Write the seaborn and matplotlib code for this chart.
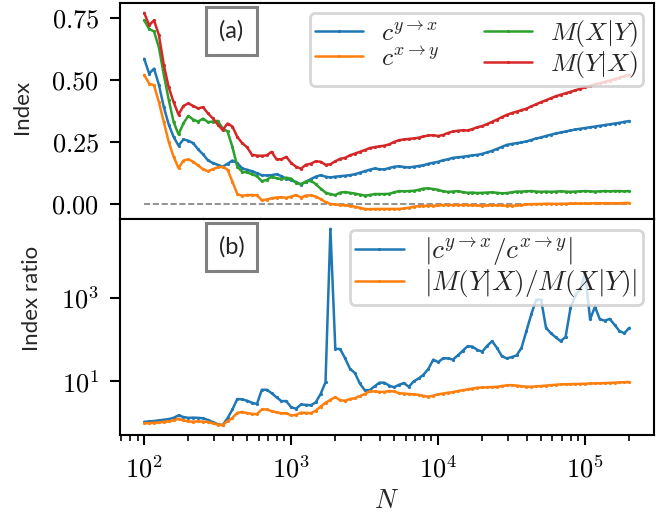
import numpy as np
import matplotlib
matplotlib.use("Agg")
import matplotlib.pyplot as plt
import seaborn as sns
from matplotlib.ticker import FuncFormatter, FixedLocator, NullLocator, LogLocator

# Sample sizes (log-spaced grid)
N = np.geomspace(100, 2e5, 100)

# Panel (a): causal indices
c_yx = [0.585, 0.525, 0.545, 0.48, 0.39, 0.32, 0.27, 0.235, 0.26, 0.255,
        0.245, 0.22, 0.2, 0.176, 0.165, 0.158, 0.15, 0.162, 0.175, 0.165,
        0.143, 0.138, 0.132, 0.124, 0.116, 0.115, 0.116, 0.12, 0.112, 0.102,
        0.096, 0.088, 0.078, 0.09, 0.1, 0.11, 0.116, 0.11, 0.107, 0.11,
        0.112, 0.114, 0.116, 0.12, 0.126, 0.132, 0.138, 0.143, 0.14, 0.139,
        0.145, 0.15, 0.152, 0.149, 0.147, 0.15, 0.153, 0.156, 0.162, 0.166,
        0.17, 0.176, 0.18, 0.186, 0.188, 0.19, 0.193, 0.196, 0.198, 0.202,
        0.208, 0.214, 0.222, 0.23, 0.238, 0.242, 0.245, 0.248, 0.252, 0.258,
        0.264, 0.268, 0.274, 0.279, 0.284, 0.288, 0.292, 0.296, 0.3, 0.303,
        0.306, 0.309, 0.312, 0.315, 0.318, 0.321, 0.324, 0.327, 0.331, 0.334]

c_xy = [0.52, 0.485, 0.478, 0.41, 0.33, 0.25, 0.19, 0.145, 0.175, 0.18,
        0.17, 0.155, 0.14, 0.132, 0.14, 0.148, 0.15, 0.138, 0.09, 0.04,
        0.033, 0.036, 0.036, 0.035, 0.015, 0.018, 0.023, 0.026, 0.027, 0.025,
        0.03, 0.036, 0.026, 0.034, 0.035, 0.03, 0.02, 0.008, 0.0, -0.002,
        -0.004, -0.005, -0.008, -0.011, -0.015, -0.02, -0.021, -0.02, -0.02, -0.02,
        -0.02, -0.02, -0.02, -0.018, -0.015, -0.011, -0.009, -0.008, -0.007, -0.007,
        -0.006, -0.004, -0.004, -0.004, -0.004, -0.004, -0.004, -0.005, -0.006, -0.007,
        -0.006, -0.005, -0.005, -0.006, -0.007, -0.007, -0.006, -0.004, -0.002, -0.001,
        0.0, 0.0, 0.001, 0.001, 0.0, 0.001, 0.001, 0.002, 0.002, 0.002,
        0.002, 0.002, 0.003, 0.003, 0.003, 0.003, 0.003, 0.003, 0.004, 0.004]

m_x_given_y = [0.74, 0.705, 0.695, 0.63, 0.52, 0.42, 0.33, 0.28, 0.325, 0.355,
               0.34, 0.332, 0.344, 0.33, 0.332, 0.335, 0.305, 0.292, 0.23, 0.15,
               0.13, 0.127, 0.12, 0.112, 0.092, 0.097, 0.11, 0.104, 0.1, 0.106,
               0.102, 0.085, 0.08, 0.09, 0.094, 0.08, 0.062, 0.046, 0.04, 0.036,
               0.046, 0.048, 0.045, 0.042, 0.038, 0.034, 0.036, 0.04, 0.04, 0.04,
               0.041, 0.047, 0.052, 0.051, 0.052, 0.053, 0.057, 0.062, 0.063, 0.06,
               0.057, 0.051, 0.049, 0.05, 0.052, 0.048, 0.045, 0.046, 0.044, 0.045,
               0.046, 0.047, 0.045, 0.043, 0.044, 0.047, 0.05, 0.05, 0.051, 0.052,
               0.05, 0.049, 0.05, 0.049, 0.05, 0.051, 0.05, 0.049, 0.05, 0.051,
               0.052, 0.051, 0.05, 0.051, 0.052, 0.051, 0.052, 0.052, 0.051, 0.052]

m_y_given_x = [0.77, 0.72, 0.74, 0.68, 0.56, 0.47, 0.41, 0.36, 0.395, 0.405,
               0.395, 0.385, 0.39, 0.365, 0.345, 0.32, 0.298, 0.324, 0.312, 0.27,
               0.245, 0.228, 0.198, 0.195, 0.194, 0.196, 0.21, 0.18, 0.18, 0.19,
               0.165, 0.15, 0.142, 0.158, 0.162, 0.172, 0.17, 0.158, 0.16, 0.172,
               0.182, 0.186, 0.196, 0.203, 0.21, 0.217, 0.225, 0.229, 0.232, 0.235,
               0.24, 0.25, 0.257, 0.26, 0.262, 0.264, 0.267, 0.272, 0.276, 0.277,
               0.274, 0.278, 0.286, 0.292, 0.295, 0.297, 0.296, 0.302, 0.309, 0.314,
               0.322, 0.331, 0.34, 0.35, 0.359, 0.366, 0.372, 0.378, 0.384, 0.393,
               0.402, 0.41, 0.418, 0.426, 0.434, 0.44, 0.446, 0.452, 0.458, 0.464,
               0.47, 0.476, 0.482, 0.487, 0.492, 0.497, 0.503, 0.509, 0.515, 0.521]

# Panel (b): index ratios
ratio_c = [1.084, 1.109, 1.135, 1.175, 1.216, 1.259, 1.349, 1.549, 1.413, 1.349,
           1.365, 1.349, 1.318, 1.202, 1.072, 0.955, 0.902, 1.318, 2.138, 3.802,
           3.715, 3.467, 3.09, 2.884, 6.31, 6.31, 5.248, 4.169, 3.388, 3.388,
           2.399, 2.239, 2.818, 2.754, 2.692, 3.162, 5.012, 9.55, 43650, 60.26,
           58.88, 35.48, 19.95, 15.85, 8.913, 6.166, 6.166, 7.586, 9.333, 9.333,
           7.943, 7.244, 8.318, 9.12, 7.413, 10.0, 11.75, 14.45, 19.95, 33.11,
           28.84, 35.48, 35.48, 33.11, 41.69, 53.7, 69.18, 67.61, 56.23, 51.29,
           70.79, 91.2, 63.1, 39.81, 35.48, 38.02, 41.69, 63.1, 158.5, 398.1,
           891.3, 891.3, 190.5, 141.3, 112.2, 91.2, 114.8, 562.3, 1122, 1585,
           3802, 302, 602.6, 302, 281.8, 309, 223.9, 158.5, 141.3, 190.5]

ratio_m = [1.0, 1.012, 1.028, 1.047, 1.084, 1.122, 1.175, 1.288, 1.175, 1.109,
           1.096, 1.109, 1.096, 1.084, 1.0, 0.933, 0.912, 1.122, 1.349, 1.778,
           1.862, 1.758, 1.679, 1.66, 2.138, 2.138, 1.95, 1.82, 1.738, 1.738,
           1.549, 1.585, 1.799, 1.778, 1.738, 1.995, 2.512, 3.09, 3.631, 4.217,
           3.548, 3.467, 3.802, 3.981, 4.467, 5.012, 5.754, 5.754, 5.623, 5.623,
           5.888, 5.754, 5.248, 5.129, 5.012, 4.898, 4.786, 4.519, 4.315, 4.571,
           4.898, 5.129, 5.37, 5.559, 5.888, 6.166, 6.457, 6.761, 7.079, 7.161,
           7.244, 7.328, 7.413, 7.762, 8.035, 8.128, 7.943, 7.674, 7.499, 7.464,
           7.586, 7.762, 7.943, 8.128, 8.318, 8.511, 8.551, 8.61, 8.67, 8.71,
           8.81, 8.913, 8.974, 9.036, 9.12, 9.226, 9.333, 9.441, 9.55, 9.661]

labels_a = [r"$c^{y\rightarrow x}$", r"$c^{x\rightarrow y}$",
            r"$M(X|Y)$", r"$M(Y|X)$"]
labels_b = [r"$|c^{y\rightarrow x}/c^{x\rightarrow y}|$",
            r"$|M(Y|X)/M(X|Y)|$"]

sns.set_style("ticks")
plt.rcParams.update({
    "mathtext.fontset": "cm",
    "axes.linewidth": 1.5,
    "xtick.major.width": 1.5, "ytick.major.width": 1.5,
    "xtick.minor.width": 1.2, "ytick.minor.width": 1.2,
    "xtick.major.size": 7, "ytick.major.size": 7,
    "xtick.minor.size": 4, "ytick.minor.size": 4,
    "xtick.major.pad": 8, "ytick.major.pad": 8,
    "axes.edgecolor": "black",
    "xtick.color": "black", "ytick.color": "black",
})
plt.rcParams["font.family"] = ["Lato", "DejaVu Sans"]

palette = sns.color_palette("tab10")
line_kw = dict(linewidth=1.8, marker="o", markersize=2.3, markeredgewidth=0)

fig = plt.figure(figsize=(6.61, 5.17), dpi=100)
gs = fig.add_gridspec(2, 1, left=0.1815, right=0.9887, top=0.9942,
                      bottom=0.1586, hspace=0)
ax1 = fig.add_subplot(gs[0])
ax2 = fig.add_subplot(gs[1], sharex=ax1)

for vals, lab, col in zip([c_yx, c_xy, m_x_given_y, m_y_given_x], labels_a, palette[:4]):
    sns.lineplot(x=N, y=vals, ax=ax1, color=col, label=lab, **line_kw)
ax1.plot([N[0], N[-1]], [0, 0], linestyle="--", color="gray", linewidth=1.2, zorder=1)

for vals, lab, col in zip([ratio_c, ratio_m], labels_b, palette[:2]):
    sns.lineplot(x=N, y=vals, ax=ax2, color=col, label=lab, **line_kw)

ax2.set_xscale("log")
ax2.set_yscale("log")

cm_fmt = FuncFormatter(lambda v, p: r"$%.2f$" % v)
pow_fmt = FuncFormatter(lambda v, p: r"$10^{%d}$" % int(round(np.log10(v))))

ax1.set_yticks([0.0, 0.25, 0.5, 0.75])
ax1.yaxis.set_major_formatter(cm_fmt)
ax1.tick_params(axis="x", which="both", bottom=False, labelbottom=False)

ax2.xaxis.set_major_locator(LogLocator(base=10))
ax2.xaxis.set_minor_locator(LogLocator(base=10, subs=np.arange(2, 10)))
ax2.xaxis.set_major_formatter(pow_fmt)
ax2.yaxis.set_major_locator(FixedLocator([10, 1000]))
ax2.yaxis.set_minor_locator(NullLocator())
ax2.yaxis.set_major_formatter(pow_fmt)

for ax in (ax1, ax2):
    ax.tick_params(labelsize=19)

ax1.set_ylabel("Index", fontsize=16)
ax2.set_ylabel("Index ratio", fontsize=16)
ax1.yaxis.set_label_coords(-0.164, 0.52)
ax2.yaxis.set_label_coords(-0.146, 0.63)
ax2.set_xlabel(r"$N$", fontsize=19)

leg1 = ax1.legend(ncol=2, fontsize=18.5, loc="upper right", framealpha=0.8,
                  edgecolor="0.8", labelspacing=0.0, handlelength=1.85,
                  handletextpad=0.72, columnspacing=1.75, borderpad=0.2,
                  borderaxespad=0.4)
leg2 = ax2.legend(fontsize=19.5, loc="upper right", framealpha=0.8,
                  edgecolor="0.8", labelspacing=0.0, handlelength=1.8,
                  handletextpad=0.75, borderpad=0.2, borderaxespad=0.4)
for leg in (leg1, leg2):
    leg.get_frame().set_linewidth(2.0)

box = dict(boxstyle="square,pad=0.55", facecolor="white", edgecolor="gray", linewidth=2.2)
ax1.text(0.209, 0.87, "(a)", transform=ax1.transAxes, fontsize=17,
         ha="center", va="center", bbox=box)
ax2.text(0.209, 0.87, "(b)", transform=ax2.transAxes, fontsize=17,
         ha="center", va="center", bbox=box)

fig.savefig("out.png", dpi=100)
